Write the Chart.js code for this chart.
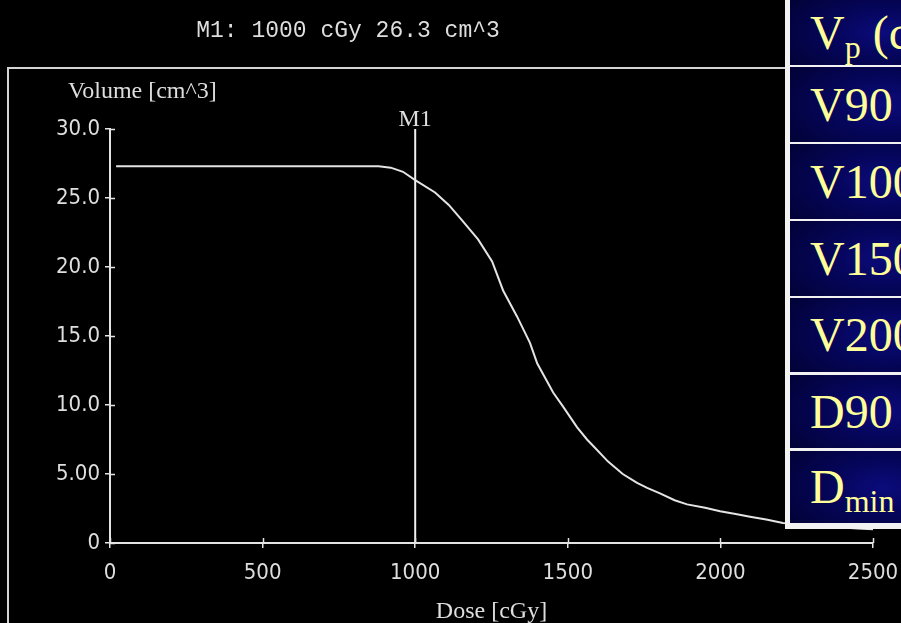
<!DOCTYPE html>
<html>
<head>
<meta charset="utf-8">
<title>DVH</title>
<script src="https://cdn.jsdelivr.net/npm/chart.js@4.4.1/dist/chart.umd.min.js"></script>
<style>
  html, body { margin: 0; padding: 0; background: #000; }
  #wrap { position: relative; width: 901px; height: 623px; overflow: hidden; background: #000; }
  #dvh { position: absolute; left: 0; top: 0; }
  #panel { position: absolute; left: 785px; top: 0; width: 116px; height: 529px; background: #f2f2f2; }
  .cell {
    position: absolute; left: 5px; width: 111px; overflow: hidden; white-space: nowrap;
    background: radial-gradient(ellipse 120% 95% at 85% 50%, #0b0b7c 0%, #05055a 40%, #01012e 100%);
    color: #ffff99; font-family: 'Liberation Serif', 'Times New Roman', serif; font-size: 48px;
    box-sizing: border-box; padding-left: 20px;
  }
  .cell sub { font-size: 32px; vertical-align: -9px; line-height: 0; }
  .cell sup { font-size: 30px; vertical-align: 18px; line-height: 0; }
</style>
</head>
<body>
<div id="wrap">
  <canvas id="dvh" width="901" height="623"></canvas>
  <div id="panel"></div>
</div>
<script>
// dose volume histogram
const doseValues = [20, 880, 920, 960, 1000, 1065, 1110, 1153, 1206, 1252, 1288, 1334, 1376, 1400,
  1452, 1484, 1530, 1563, 1589, 1632, 1680, 1727, 1760, 1802, 1850, 1891, 1950, 1999, 2050,
  2097, 2150, 2205, 2260, 2350, 2450, 2500];
const volumeValues = [27.3, 27.3, 27.2, 26.9, 26.3, 25.4, 24.5, 23.4, 22.0, 20.4, 18.3, 16.4, 14.5, 13.0,
  10.9, 9.9, 8.4, 7.5, 6.9, 5.9, 5.0, 4.35, 4.0, 3.6, 3.1, 2.8, 2.55, 2.3, 2.1,
  1.9, 1.7, 1.45, 1.35, 1.2, 1.05, 1.0];

const yTickValues = [0, 5, 10, 15, 20, 25, 30];
const yTickLabels = ['0', '5.00', '10.0', '15.0', '20.0', '25.0', '30.0'];
const xTickValues = [0, 500, 1000, 1500, 2000, 2500];

const markerName = 'M1';
const markerDose = 1000;
const markerVolume = 26.3;

const tableRows = ['V<sub>p</sub> (cm<sup>3</sup>)', 'V90', 'V100', 'V150', 'V200', 'D90', 'D<sub>min</sub>'];

const lineColor = '#e4e4e4';
const textColor = '#dedede';
const tickFont = "'Liberation Sans Narrow', 'DejaVu Sans Condensed', sans-serif";
const serifFont = "'Liberation Serif', 'Times New Roman', serif";

// side table
const panel = document.getElementById('panel');
const rowTops = [0, 67, 144, 221, 298, 375, 451];
const rowHeights = [65, 75, 75, 75, 74, 73, 72];
tableRows.forEach(function(html, i) {
  const d = document.createElement('div');
  d.className = 'cell';
  d.style.top = rowTops[i] + 'px';
  d.style.height = rowHeights[i] + 'px';
  d.style.lineHeight = rowHeights[i] + 'px';
  d.innerHTML = html;
  panel.appendChild(d);
});

const decor = {
  id: 'decor',
  beforeDraw(chart) {
    const ctx = chart.ctx;
    ctx.save();
    ctx.fillStyle = '#000';
    ctx.fillRect(0, 0, chart.width, chart.height);
    ctx.restore();
  },
  afterDraw(chart) {
    const ctx = chart.ctx;
    const x = chart.scales.x, y = chart.scales.y;
    ctx.save();
    // outer frame
    ctx.strokeStyle = '#d4d4d4';
    ctx.lineWidth = 2;
    ctx.beginPath();
    ctx.moveTo(8, chart.height);
    ctx.lineTo(8, 68);
    ctx.lineTo(chart.width, 68);
    ctx.stroke();

    // inward half of ticks
    ctx.strokeStyle = lineColor;
    ctx.lineWidth = 1.5;
    ctx.beginPath();
    yTickValues.forEach(function(v) {
      const py = Math.round(y.getPixelForValue(v)) + 0.5;
      ctx.moveTo(chart.chartArea.left, py);
      ctx.lineTo(chart.chartArea.left + 5, py);
    });
    xTickValues.forEach(function(v) {
      const px = Math.round(x.getPixelForValue(v)) + 0.5;
      ctx.moveTo(px, chart.chartArea.bottom);
      ctx.lineTo(px, chart.chartArea.bottom - 5);
    });
    ctx.stroke();

    ctx.fillStyle = textColor;
    ctx.font = "23px 'Liberation Mono', 'DejaVu Sans Mono', monospace";
    ctx.textAlign = 'center';
    ctx.textBaseline = 'alphabetic';
    ctx.fillText(markerName + ': ' + markerDose + ' cGy ' + markerVolume.toFixed(1) + ' cm^3', 348, 37);

    ctx.font = '24px ' + serifFont;
    ctx.textAlign = 'left';
    ctx.fillText('Volume [cm^3]', 68, 98);
    ctx.textAlign = 'center';
    ctx.fillText('Dose [cGy]', (chart.chartArea.left + chart.chartArea.right) / 2, 618);
    ctx.fillText(markerName, x.getPixelForValue(markerDose), 126);
    ctx.restore();
  }
};

new Chart(document.getElementById('dvh').getContext('2d'), {
  type: 'line',
  data: {
    datasets: [{
      data: doseValues.map(function(d, i) { return { x: d, y: volumeValues[i] }; }),
      borderColor: lineColor,
      borderWidth: 2,
      pointRadius: 0,
      tension: 0
    }, {
      data: [{ x: markerDose, y: 0 }, { x: markerDose, y: 30 }],
      borderColor: '#f0f0f0',
      borderWidth: 2,
      pointRadius: 0
    }]
  },
  options: {
    responsive: false,
    animation: false,
    devicePixelRatio: 1,
    layout: { padding: { top: 129, right: 28, left: 0, bottom: 0 } },
    plugins: { legend: { display: false }, tooltip: { enabled: false } },
    scales: {
      x: {
        type: 'linear', min: 0, max: 2500,
        afterFit(scale) { scale.height = 80; scale.paddingLeft = 0; scale.paddingRight = 0; },
        afterBuildTicks(scale) { scale.ticks = xTickValues.map(function(v) { return { value: v }; }); },
        border: { display: true, color: lineColor, width: 2 },
        grid: { drawOnChartArea: false, drawTicks: true, tickLength: 5, color: lineColor, lineWidth: 1.5 },
        ticks: {
          color: textColor, padding: 12, maxRotation: 0, font: { family: tickFont, size: 22 },
          callback: function(v) { return String(v); }
        }
      },
      y: {
        type: 'linear', min: 0, max: 30,
        afterFit(scale) { scale.width = 110; },
        afterBuildTicks(scale) { scale.ticks = yTickValues.map(function(v) { return { value: v }; }); },
        border: { display: true, color: lineColor, width: 2 },
        grid: { drawOnChartArea: false, drawTicks: true, tickLength: 5, color: lineColor, lineWidth: 1.5 },
        ticks: {
          color: textColor, padding: 5, font: { family: tickFont, size: 22 },
          callback: function(v) { return yTickLabels[yTickValues.indexOf(v)]; }
        }
      }
    }
  },
  plugins: [decor]
});
</script>
</body>
</html>
